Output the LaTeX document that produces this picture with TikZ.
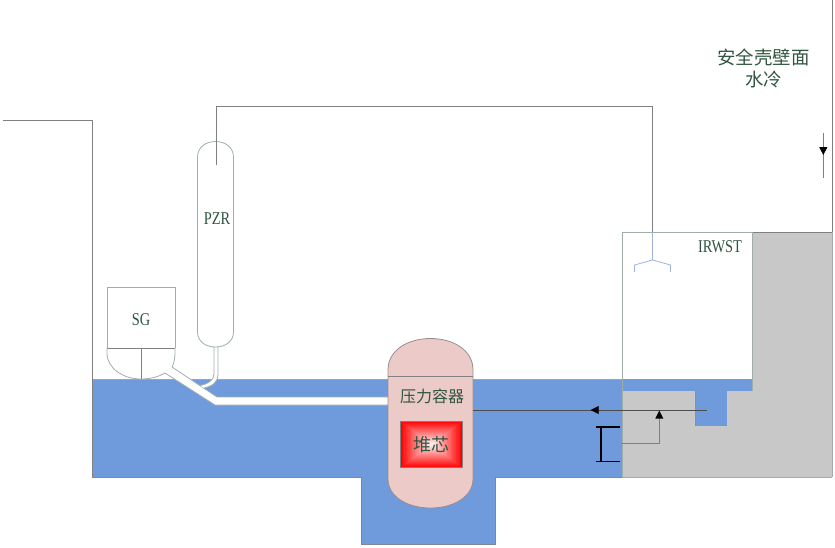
\documentclass[tikz,border=0pt]{standalone}
\usepackage{fontspec}
\setmainfont{Liberation Serif}
\newfontfamily\cjk{Noto Sans CJK SC}[Scale=1]
\newfontfamily\narrowlatin{Liberation Serif}[FakeStretch=0.8]
\usetikzlibrary{arrows.meta,decorations.markings}
\definecolor{poolblue}{HTML}{6F9BDC}
\definecolor{wallgrey}{HTML}{C8C8C8}
\definecolor{vesselpink}{HTML}{ECCAC8}
\definecolor{edgegrey}{HTML}{9FAFA8}
\definecolor{pipegrey}{HTML}{808080}
\definecolor{spargeblue}{HTML}{9DB4D8}
\definecolor{labelgreen}{HTML}{2F5540}
\tikzset{
  thinline/.style={draw=edgegrey,line width=0.8pt},
  pipeline/.style={draw=pipegrey,line width=0.8pt},
  label/.style={text=labelgreen,inner sep=0pt,align=center},
  latinlabel/.style={label,font=\narrowlatin\fontsize{18}{18}\selectfont},
  midhead/.style={postaction={decorate},decoration={markings,mark=at position #1 with {\arrow[black]{Triangle[length=8pt,width=8pt]}}}},
}
\begin{document}
\begin{tikzpicture}[x=1pt,y=-1pt]
\useasboundingbox (0,0) rectangle (835,547);
% water
\fill[poolblue] (92,379) -- (752,379) -- (752,391) -- (727,391) -- (727,426) -- (695,426) -- (695,391) -- (622,391) -- (622,477) -- (495,477) -- (495,544) -- (361,544) -- (361,477) -- (92,477) -- cycle;
\draw[draw=edgegrey!70!poolblue,line width=0.7pt] (92,379) -- (622,379);
\draw[draw=pipegrey!60!poolblue,line width=0.7pt] (622,391) -- (695,391) -- (695,426) -- (727,426) -- (727,391) -- (752,391);
\draw[thinline,draw=pipegrey!70!poolblue] (92,477) -- (361,477) -- (361,544) -- (495,544) -- (495,477) -- (622,477);
% wall
\fill[wallgrey] (622,391) -- (695,391) -- (695,426) -- (727,426) -- (727,391) -- (752,391) -- (752,232) -- (832,232) -- (832,477) -- (622,477) -- cycle;
\draw[thinline] (622,477) -- (832,477);
\draw[pipegrey,line width=0.8pt] (752,232) -- (832,232);
% containment
\coordinate (ctopl) at (3,120);
\coordinate (ctopr) at (832,0);
\draw[pipeline] (ctopl) -- (92,120) -- (92,477);
\draw[pipeline] (ctopr) -- (832,232);
\draw[thinline] (832,232) -- (832,477);
% IRWST
\draw[thinline] (622,477) -- (622,232) -- (752,232) -- (752,391);
\node[latinlabel] (irwst) at (720,247) {IRWST};
% hot leg and surge line
\fill[white] (172,367) -- (217,397) -- (388,397) -- (388,405) -- (215,405) -- (165,373) -- cycle;
\draw[thinline] (172,367) -- (217,397) -- (388,397);
\draw[thinline] (165,373) -- (215,405) -- (388,405);
\fill[white] (214,347) -- (214,374) .. controls (214,380) and (208,384) .. (200,385.5) -- (204,388) .. controls (213,386) and (218,382) .. (218,374) -- (218,347) -- cycle;
\draw[thinline] (214,347) -- (214,374) .. controls (214,380) and (208,384) .. (200,385.5);
\draw[thinline] (218,347) -- (218,374) .. controls (218,382) and (213,386) .. (204,388);
% SG
\draw[thinline] (107,348) -- (107,287) -- (175,287) -- (175,348);
\draw[pipegrey,line width=0.7pt] (107,348) -- (175,348);
\draw[pipegrey,line width=0.7pt] (141,348) -- (141,379);
\draw[thinline] (107,348) -- (107,353) .. controls (107,369) and (124,379) .. (141,379) .. controls (150,379) and (158,377) .. (165,373);
\draw[thinline] (175,348) -- (175,353) .. controls (175,359) and (174,363) .. (172,367);
\node[latinlabel] (sg) at (141,320) {SG};
% PZR
\draw[thinline,fill=white] (197.5,157) .. controls (197.5,148) and (205,141.5) .. (215.5,141.5) .. controls (226,141.5) and (233.5,148) .. (233.5,157) -- (233.5,332) .. controls (233.5,341) and (226,347) .. (215.5,347) .. controls (205,347) and (197.5,341) .. (197.5,332) -- cycle;
\node[latinlabel] (pzr) at (217,219) {PZR};
% spray line to IRWST
\coordinate (sprayend) at (216,165);
\coordinate (spargetop) at (652.5,232);
\coordinate (spargehub) at (652.5,260);
\draw[pipeline] (sprayend) -- (216,106) -- (652.5,106) -- (spargetop);
\draw[draw=spargeblue,line width=0.8pt] (spargetop) -- (spargehub);
\draw[draw=spargeblue,line width=0.8pt] (634.5,272) -- (634.5,265) -- (spargehub) -- (670.5,265) -- (670.5,272);
% vessel
\draw[draw=pipegrey!80!vesselpink,line width=0.8pt,fill=vesselpink] (388,370) .. controls (388,350) and (408,338.5) .. (430.5,338.5) .. controls (453,338.5) and (473,350) .. (473,370) -- (473,479) .. controls (473,497) and (453,508) .. (430.5,508) .. controls (408,508) and (388,497) .. (388,479) -- cycle;
\draw[draw=pipegrey,line width=0.7pt] (388,376) -- (473,376);
\node[label,font=\cjk\fontsize{16}{16}\selectfont] (rpv) at (432,396) {压力容器};
% core
\foreach \i in {0,...,24}{
  \pgfmathsetmacro{\t}{\i/24}
  \pgfmathsetmacro{\mixv}{100*\t}
  \fill[white!\mixv!red] ({400.5+\t*31},{421.5+\t*23}) rectangle ({462.5-\t*31},{467.5-\t*23});
}
\node[draw=pipegrey,line width=0.5pt,minimum width=62pt,minimum height=46pt,inner sep=0pt,text=labelgreen,font=\cjk\fontsize{18}{18}\selectfont] (core) at (431.5,444.5) {堆芯};
% flow arrows
\coordinate (slotend) at (707,410);
\coordinate (vesselr) at (473,410);
\draw[draw=pipegrey!60!black,line width=0.7pt,midhead=0.497] (slotend) -- (vesselr);
\coordinate (vleft) at (622,443.5);
\coordinate (vtip) at (659.3,410.5);
\draw[draw=pipegrey,line width=0.8pt] (vleft) -- (659.3,443.5) -- (659.3,416);
\path[fill=black] (vtip) -- (655.3,418.5) -- (663.3,418.5) -- cycle;
% valve
\draw[black,line width=1.5pt] (596,427) -- (620,427) (601,427) -- (601,461.7) (596,461.7) -- (620,461.7);
% water cooling arrow
\coordinate (cooltop) at (823.3,133);
\coordinate (coolbot) at (823.3,178);
\draw[draw=pipegrey,line width=0.7pt,midhead=0.49] (cooltop) -- (coolbot);
\node[label,font=\cjk\fontsize{18.4}{22}\selectfont] (cool) at (763.5,68) {安全壳壁面\\水冷};
\end{tikzpicture}
\end{document}
